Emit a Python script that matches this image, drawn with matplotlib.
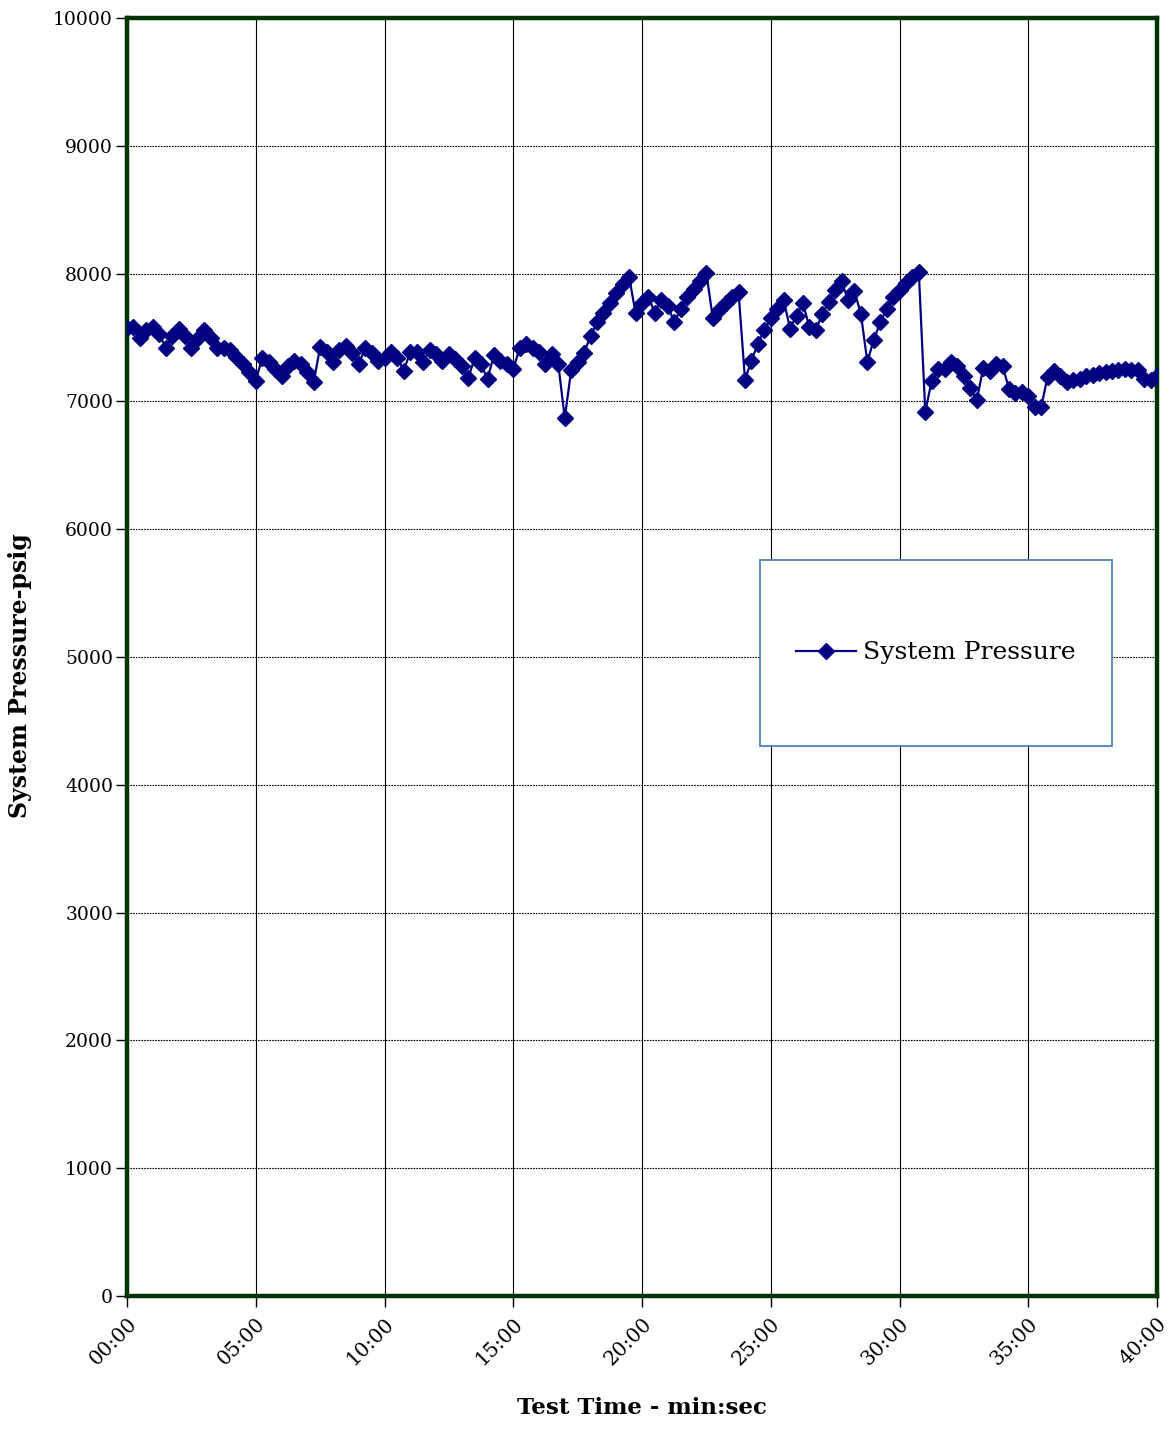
import matplotlib
matplotlib.use("Agg")
import matplotlib.pyplot as plt
from matplotlib.ticker import FixedLocator
from matplotlib.patches import Rectangle

# time in seconds, every 15 s from 00:00 to 40:00
time_step_s = 15
pressure_psig = [
    7575, 7580, 7500, 7560, 7580, 7530, 7420, 7510, 7570, 7510,
    7420, 7500, 7560, 7500, 7420, 7420, 7400, 7350, 7290, 7230,
    7160, 7340, 7310, 7250, 7200, 7280, 7320, 7290, 7230, 7150,
    7425, 7390, 7310, 7400, 7435, 7380, 7290, 7420, 7380, 7320,
    7340, 7390, 7340, 7240, 7390, 7390, 7310, 7400, 7370, 7320,
    7370, 7330, 7280, 7180, 7340, 7290, 7175, 7365, 7320, 7290,
    7250, 7420, 7450, 7420, 7390, 7290, 7370, 7290, 6870, 7245,
    7310, 7380, 7510, 7620, 7690, 7770, 7850, 7920, 7975, 7690,
    7770, 7820, 7690, 7795, 7750, 7620, 7720, 7820, 7880, 7940,
    8005, 7650, 7715, 7770, 7820, 7855, 7170, 7320, 7450, 7560,
    7650, 7720, 7795, 7570, 7670, 7770, 7580, 7560, 7680, 7780,
    7870, 7940, 7795, 7865, 7685, 7310, 7480, 7620, 7720, 7820,
    7870, 7925, 7975, 8010, 6920, 7160, 7250, 7250, 7310, 7280,
    7200, 7105, 7010, 7260, 7240, 7290, 7280, 7100, 7065, 7075,
    7040, 6955, 6955, 7190, 7240, 7200, 7150, 7170, 7175, 7200,
    7205, 7220, 7230, 7240, 7245, 7255, 7245, 7245, 7175, 7170,
    7200,
]
time_min = [i * time_step_s / 60.0 for i in range(len(pressure_psig))]

x_ticks = [0, 5, 10, 15, 20, 25, 30, 35, 40]
x_tick_labels = ["00:00", "05:00", "10:00", "15:00", "20:00", "25:00", "30:00", "35:00", "40:00"]
y_ticks = list(range(0, 10001, 1000))

serif = ["DejaVu Serif"]

fig = plt.figure(figsize=(11.68, 14.32), dpi=100)
ax = fig.add_axes([127 / 1168, 1 - 1296 / 1432, (1157 - 127) / 1168, (1296 - 18) / 1432])

ax.plot(time_min, pressure_psig, color="#000080", lw=1.6, marker="D", ms=8.5,
        mec="#000080", mfc="#000080", label="System Pressure", zorder=3)

ax.set_xlim(0, 40)
ax.set_ylim(0, 10000)
ax.xaxis.set_major_locator(FixedLocator(x_ticks))
ax.set_xticklabels(x_tick_labels, rotation=45, ha="right", rotation_mode="anchor",
                   fontsize=14.5, family=serif)
ax.set_yticks(y_ticks)
ax.set_yticklabels([str(v) for v in y_ticks], fontsize=13.5, family=serif)
ax.tick_params(axis="both", direction="out", length=8, width=1, color="black")
ax.tick_params(axis="y", pad=2)
ax.tick_params(axis="x", pad=5)

ax.grid(axis="y", color="black", linestyle=(0, (1.5, 1.0)), linewidth=0.8)
ax.grid(axis="x", color="black", linestyle="-", linewidth=0.8)
ax.set_axisbelow(True)

for sp in ax.spines.values():
    sp.set_color("#003300")
    sp.set_linewidth(3.2)

ax.set_ylabel("System Pressure-psig", fontsize=17, fontweight="bold", family=serif)
ax.yaxis.set_label_coords(-95 / 1030, (1296 - 676) / 1278)
ax.set_xlabel("Test Time - min:sec", fontsize=16.5, fontweight="bold", family=serif, labelpad=20)

# legend box
bx0, bx1 = (760 - 127) / 1030, (1112 - 127) / 1030
by0, by1 = (1296 - 746) / 1278, (1296 - 560) / 1278
frame = Rectangle((bx0, by0), bx1 - bx0, by1 - by0, transform=ax.transAxes,
                  facecolor="white", edgecolor="#4f81bd", lw=1.3, zorder=5)
ax.add_patch(frame)
leg = ax.legend(loc="center", bbox_to_anchor=(bx0, by0, bx1 - bx0, by1 - by0),
                frameon=False, prop={"family": serif, "size": 18},
                handlelength=2.4, handletextpad=0.3, borderaxespad=0)
leg.set_zorder(6)

fig.savefig("out.png", dpi=100)
